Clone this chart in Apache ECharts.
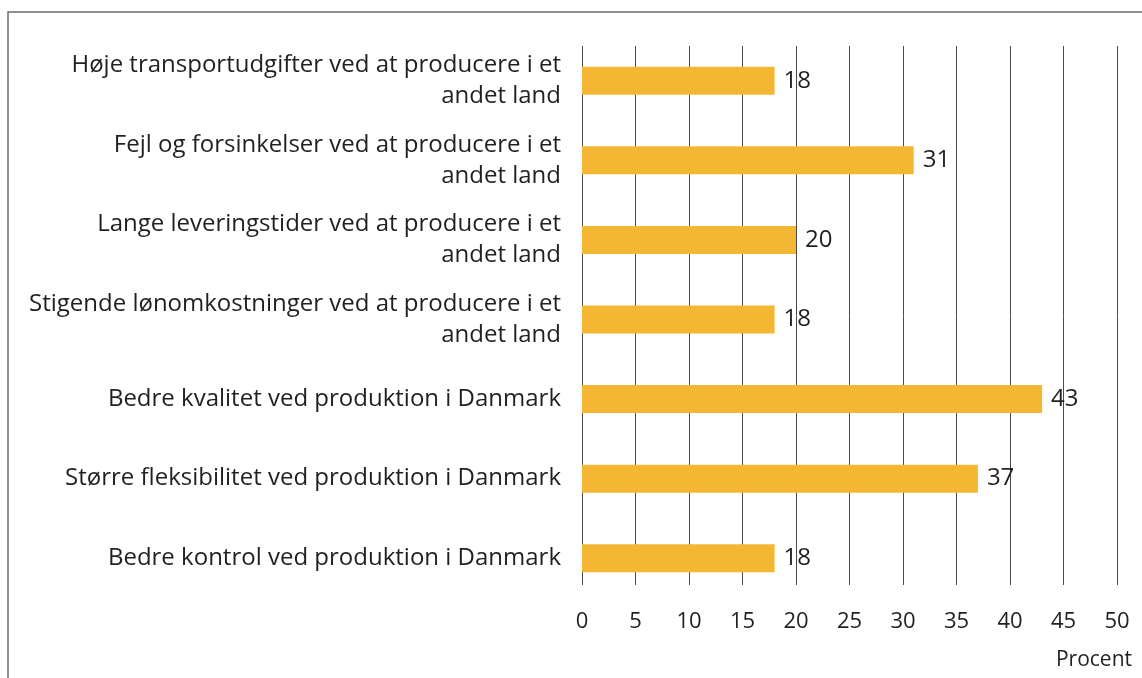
<!DOCTYPE html>
<html>
<head>
<meta charset="utf-8">
<script src="https://cdn.jsdelivr.net/npm/echarts@6/dist/echarts.min.js"></script>
<style>
html,body{margin:0;padding:0;background:#fff;}
#chart{width:1142px;height:678px;}
</style>
</head>
<body>
<div id="chart"></div>
<script>
const categories = [
  "Høje transportudgifter ved at producere i et\nandet land",
  "Fejl og forsinkelser ved at producere i et\nandet land",
  "Lange leveringstider ved at producere i et\nandet land",
  "Stigende lønomkostninger ved at producere i et\nandet land",
  "Bedre kvalitet ved produktion i Danmark",
  "Større fleksibilitet ved produktion i Danmark",
  "Bedre kontrol ved produktion i Danmark"
];
const values = [18, 31, 20, 18, 43, 37, 18];
const axisMin = 0, axisMax = 50, axisStep = 5;
const axisTitle = "Procent";

const FONT = "Open Sans";
const TXT = "#231F20";
const chart = echarts.init(document.getElementById('chart'), null, {renderer: 'canvas'});
chart.setOption({
  animation: false,
  backgroundColor: '#fff',
  graphic: [
    {type: 'rect', shape: {x: 8, y: 12, width: 1160, height: 700}, style: {fill: 'none', stroke: '#6b6b6b', lineWidth: 1.5}, z: 0},
    {type: 'text', right: 10, top: 650, style: {text: axisTitle, font: '21px "' + FONT + '"', fill: TXT}}
  ],
  grid: [
    {left: 582, right: 25, top: 41, bottom: 80},
    {left: 582, right: 25, top: 46, bottom: 93}
  ],
  xAxis: [
    {gridIndex: 0, type: 'value', min: axisMin, max: axisMax, interval: axisStep, show: false},
    {gridIndex: 1, type: 'value', min: axisMin, max: axisMax, interval: axisStep,
     axisLine: {show: false}, axisTick: {show: false},
     splitLine: {show: true, lineStyle: {color: '#4a4a4a', width: 1}},
     axisLabel: {margin: 26, fontSize: 22, fontFamily: FONT, color: TXT}}
  ],
  yAxis: [
    {gridIndex: 0, type: 'category', data: categories, inverse: true,
     axisLine: {show: false}, axisTick: {show: false}, splitLine: {show: false},
     axisLabel: {margin: 21, fontSize: 24, lineHeight: 31, fontFamily: FONT, color: TXT, align: 'right'}},
    {gridIndex: 1, type: 'value', show: false}
  ],
  series: [{
    type: 'bar', xAxisIndex: 0, yAxisIndex: 0, data: values, barWidth: 28,
    itemStyle: {color: '#F4B734'},
    label: {show: true, position: 'right', distance: 9, fontSize: 24, fontFamily: FONT, color: TXT}
  }]
});
</script>
</body>
</html>
